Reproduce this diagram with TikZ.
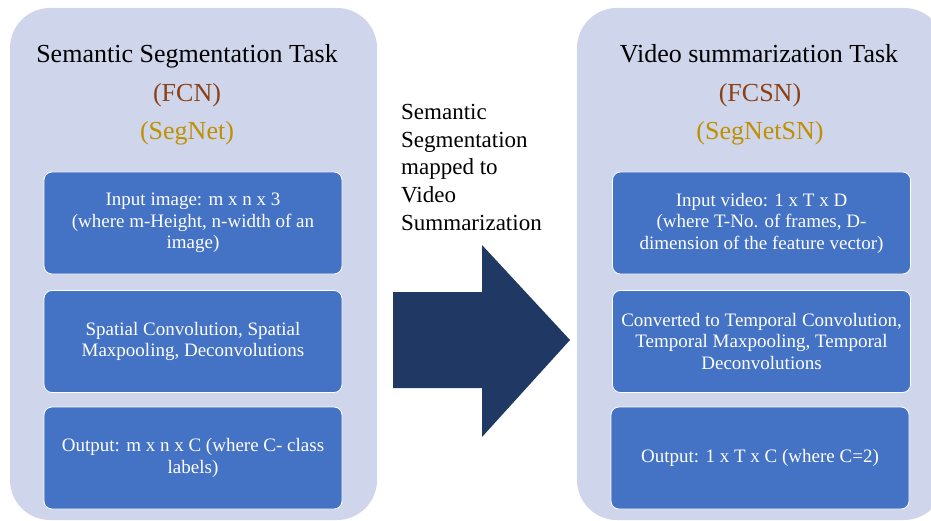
\documentclass[tikz,border=0pt]{standalone}
\usepackage{fontspec}
\setmainfont{Liberation Serif}
\definecolor{panelfill}{RGB}{207,213,234}
\definecolor{boxblue}{RGB}{68,114,196}
\definecolor{navyarrow}{RGB}{32,56,100}
\definecolor{fcnbrown}{RGB}{140,64,20}
\definecolor{segold}{RGB}{191,144,0}
\begin{document}
\begin{tikzpicture}[x=1pt,y=-1pt,
  panelbox/.style={fill=panelfill, rounded corners=40pt, minimum width=367pt, minimum height=512pt, inner sep=0pt},
  stepbox/.style={fill=boxblue, draw=white, line width=0.8pt, rounded corners=8pt,
    minimum width=298pt, minimum height=102pt, align=center, text=white,
    font=\fontsize{19}{21.5}\selectfont, inner sep=0pt},
  titletext/.style={font=\fontsize{26}{30}\selectfont, anchor=base, inner sep=0pt},
  midtext/.style={font=\fontsize{23}{27.7}\selectfont, align=left, anchor=north west, inner sep=0pt},
]
\useasboundingbox (0,0) rectangle (931,521);
% panels
\node[panelbox] (leftpanel) at (193.5,264) {};
\node[panelbox] (rightpanel) at (760.5,264) {};
% titles
\node[titletext] (ltitle) at (187,63) {Semantic Segmentation Task};
\node[titletext, text=fcnbrown] (fcn) at (187,102) {(FCN)};
\node[titletext, text=segold] (segnet) at (187,140) {(SegNet)};
\node[titletext] (rtitle) at (759,63) {Video summarization Task};
\node[titletext, text=fcnbrown] (fcsn) at (760,102) {(FCSN)};
\node[titletext, text=segold] (segnetsn) at (760,140) {(SegNetSN)};
% left boxes
\node[stepbox] (lin) at (193,223) {Input image: m x n x 3\\(where m-Height, n-width of an\\image)};
\node[stepbox] (lmid) at (193,341.5) {Spatial Convolution, Spatial\\Maxpooling, Deconvolutions};
\node[stepbox] (lout) at (193,458) {Output: m x n x C (where C- class\\labels)};
% right boxes
\node[stepbox] (rin) at (761.5,223) {Input video: 1 x T x D\\(where T-No. of frames, D-\\dimension of the feature vector)};
\node[stepbox] (rmid) at (761.5,341.5) {Converted to Temporal Convolution,\\Temporal Maxpooling, Temporal\\Deconvolutions};
\node[stepbox] (rout) at (760,458) {Output: 1 x T x C (where C=2)};
% middle label
\node[midtext] (maplabel) at (401,104) {Semantic\\Segmentation\\mapped to\\Video\\Summarization};
% block arrow
\fill[navyarrow] (393,292) -- (482,292) -- (482,245) -- (570,340) -- (482,437) -- (482,388) -- (393,388) -- cycle;
\end{tikzpicture}
\end{document}
